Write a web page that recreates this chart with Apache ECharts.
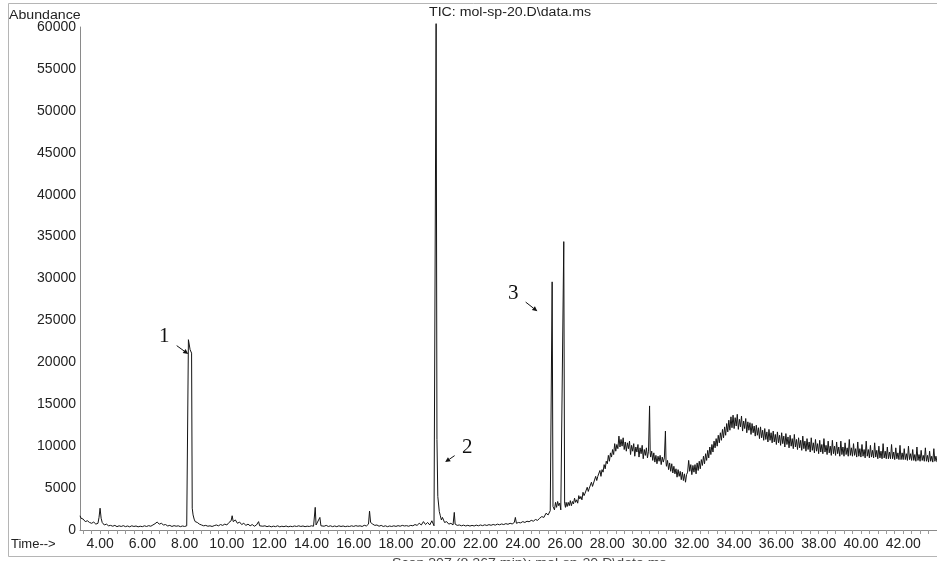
<!DOCTYPE html>
<html>
<head>
<meta charset="utf-8">
<script src="https://cdn.jsdelivr.net/npm/echarts@6.0.0/dist/echarts.min.js"></script>
<style>
  html, body { margin: 0; padding: 0; background: #fff; }
  #main { width: 937px; height: 561px; }
</style>
</head>
<body>
<div id="main"></div>
<script>
// TIC trace, [time (min), abundance]
var traceEarly = [
  [3.05,1700],[3.1,1400],[3.15,1200],[3.2,1300],[3.3,1000],[3.4,1100],[3.5,900],[3.6,800],[3.7,950],[3.8,700],
  [3.9,800],[3.95,1500],[4.0,2600],[4.05,1400],[4.1,900],[4.2,600],[4.3,700],[4.4,500],[4.5,550],[4.6,450],
  [4.7,550],[4.8,400],[4.9,500],[5.0,420],[5.1,520],[5.2,400],[5.3,480],[5.4,380],[5.5,500],[5.6,420],
  [5.7,480],[5.8,380],[5.9,450],[6.0,400],[6.1,500],[6.2,420],[6.3,520],[6.4,450],[6.5,600],[6.6,750],
  [6.7,950],[6.8,700],[6.9,800],[7.0,600],[7.1,650],[7.2,480],[7.3,550],[7.4,420],[7.5,520],[7.6,450],
  [7.7,500],[7.8,400],[7.9,480],[8.0,420],[8.1,500],[8.14,600]
];
var tracePeak1 = [
  [8.18,22700],[8.26,21500],[8.33,21100],[8.36,2600],[8.4,1800],[8.45,1300],[8.5,1000],[8.6,900],[8.7,700],[8.8,600],
  [8.9,500],[9.0,550],[9.1,450],[9.2,500],[9.3,420],[9.4,520],[9.5,600],[9.6,500],[9.7,650],[9.8,550],
  [9.9,700],[10.0,600],[10.1,900],[10.2,1100],[10.25,1700],[10.3,1000],[10.4,1200],[10.5,800],[10.6,950],[10.7,650],
  [10.8,800],[10.9,550],[11.0,700],[11.1,500],[11.2,650],[11.3,450],[11.4,600],[11.5,1000],[11.55,500],[11.6,550],
  [11.7,450],[11.8,500],[11.9,400],[12.0,480],[12.1,380],[12.2,460],[12.3,400],[12.4,500],[12.5,380],[12.6,450],
  [12.7,400],[12.8,480],[12.9,380],[13.0,450],[13.1,400],[13.2,480],[13.3,420],[13.4,500],[13.5,420],[13.6,480],
  [13.7,400],[13.8,460],[13.9,420],[14.0,500],[14.1,450],[14.18,2700],[14.22,600],[14.3,800],[14.4,1500],[14.45,500],
  [14.5,600],[14.6,450],[14.7,550],[14.8,420],[14.9,500],[15.0,400],[15.1,480],[15.2,400],[15.3,500],[15.4,420],
  [15.5,480],[15.6,400],[15.7,460],[15.8,420],[15.9,500],[16.0,430],[16.1,520],[16.2,450],[16.3,500],[16.4,420],
  [16.5,560],[16.6,480],[16.7,700],[16.75,2250],[16.8,900],[16.9,700],[17.0,550],[17.1,600],[17.2,450],[17.3,550],
  [17.4,420],[17.5,500],[17.6,400],[17.7,480],[17.8,420],[17.9,500],[18.0,430],[18.1,520],[18.2,450],[18.3,550],
  [18.4,480],[18.5,520],[18.6,450],[18.7,550],[18.8,500],[18.9,650],[19.0,550],[19.1,800],[19.2,600],[19.3,1000],
  [19.4,650],[19.5,900],[19.6,600],[19.7,1100],[19.8,500],[19.86,450]
];
var tracePeak2 = [
  [19.9,60400],[19.94,10800],[19.98,4000],[20.05,2200],[20.1,1700],[20.15,1200],[20.2,1500],[20.3,900],[20.4,1000],[20.5,700],
  [20.6,800],[20.7,600],[20.76,2100],[20.8,700],[20.9,550],[21.0,600],[21.1,500],[21.2,580],[21.3,480],[21.4,560],
  [21.5,470],[21.6,550],[21.7,480],[21.8,580],[21.9,500],[22.0,600],[22.1,520],[22.2,620],[22.3,540],[22.4,640],
  [22.5,560],[22.6,660],[22.7,580],[22.8,700],[22.9,620],[23.0,720],[23.1,650],[23.2,760],[23.3,680],[23.4,800],
  [23.5,720],[23.6,900],[23.65,1500],[23.7,800],[23.8,900],[23.9,850],[24.0,1000],[24.1,900],[24.2,1050],[24.3,980],
  [24.4,1150],[24.5,1050],[24.6,1250],[24.7,1150],[24.8,1400],[24.9,1600],[25.0,1500],[25.1,2000],[25.2,1800],[25.3,2300],
  [25.35,2100]
];
var tracePeak3 = [
  [25.39,29600],[25.43,2800],[25.5,2400],[25.55,3300],[25.6,2700],[25.65,3400],[25.7,2900],[25.75,3200],[25.8,2400],[25.88,2600],
  [25.94,34400],[25.98,3200],[26.02,2700],[26.05,3300],[26.1,2800]
];
var traceRise = [
  [26.15,3300],[26.2,2900],[26.25,3500],[26.3,2900],[26.35,3400],[26.4,3100],[26.45,3800],[26.5,3300],[26.55,3600],[26.6,3200],
  [26.65,4100],[26.7,3700],[26.75,4000],[26.8,3600],[26.85,4500],[26.9,4100],[26.95,4400],[27.0,4500],[27.05,5100],[27.1,4600],
  [27.15,5000],[27.2,4900],[27.25,5700],[27.3,5200],[27.35,5600],[27.4,5500],[27.45,6400],[27.5,5900],[27.55,6400],[27.6,6200],
  [27.65,7100],[27.7,6400],[27.75,7200],[27.8,6900],[27.85,7800],[27.9,7300],[27.95,8200],[28.0,7900],[28.05,8900],[28.1,8200],
  [28.15,9200],[28.2,8700],[28.25,9600],[28.3,9000],[28.35,10300],[28.4,9400],[28.45,10200],[28.5,9700],[28.55,11200],[28.6,9900],
  [28.65,10800],[28.7,10000],[28.75,11000],[28.8,9600],[28.85,10500],[28.9,9400],[28.95,10400],[29.0,9700],[29.05,10600],[29.1,9000],
  [29.15,10100],[29.2,9400],[29.25,10300],[29.3,8800],[29.35,9900],[29.4,9300],[29.45,10200],[29.5,8700],[29.55,9800],[29.6,9100],
  [29.65,10100],[29.7,8500],[29.75,9600],[29.8,8900],[29.85,9800],[29.9,8600],[29.95,9400],[30.0,14800],[30.03,9200],[30.05,8700],
  [30.1,9400],[30.15,8300],[30.2,9200],[30.25,8100],[30.3,8900],[30.35,7900],[30.4,8800],[30.45,8200],[30.5,8900],[30.55,7800],
  [30.6,8700],[30.65,8100],[30.7,8600],[30.75,11800],[30.78,8000],[30.8,7600],[30.85,8300],[30.9,7200],[30.95,8000],[31.0,7000],
  [31.05,7900],[31.1,6800],[31.15,7600],[31.2,6700],[31.25,7300],[31.3,6300],[31.35,7200],[31.4,6400],[31.45,7000],[31.5,6000],
  [31.55,6900],[31.6,5900],[31.65,6700],[31.7,5700],[31.75,6600],[31.8,6900],[31.85,8300],[31.9,7000],[31.95,7800],[32.0,6600],
  [32.05,7700],[32.1,6900],[32.15,7800],[32.2,6700],[32.25,8000],[32.3,7100],[32.35,8200],[32.4,7300],[32.45,8400],[32.5,7700],
  [32.55,8800],[32.6,7900],[32.65,9100],[32.7,8300],[32.75,9500],[32.8,8600],[32.85,9900],[32.9,9000],[32.95,10200],[33.0,9300],
  [33.05,10600],[33.1,9800],[33.15,10900],[33.2,10000],[33.25,11300],[33.3,10400],[33.35,11600],[33.4,10700],[33.45,12000],[33.5,11000],
  [33.55,12300],[33.6,11300],[33.65,12700],[33.7,11700],[33.75,13100],[33.8,11900],[33.85,13500],[33.9,12200],[33.95,13700],[34.0,12100]
];
var tracePlateau = [
  [34.05,13400],[34.1,12400],[34.15,13800],[34.2,12000],[34.25,13200],[34.3,12300],[34.35,13600],[34.4,11800],[34.45,13000],[34.5,12100],
  [34.55,13300],[34.6,11600],[34.65,12900],[34.7,11900],[34.75,12800],[34.8,11400],[34.85,12700],[34.9,11600],[34.95,12400],[35.0,11200],
  [35.05,12500],[35.1,11300],[35.15,12200],[35.2,10900],[35.25,12300],[35.3,11000],[35.35,11900],[35.4,10700],[35.45,12100],[35.5,10800],
  [35.55,11700],[35.6,10500],[35.65,12000],[35.7,10700],[35.75,11600],[35.8,10400],[35.85,11800],[35.9,10500],[35.95,11400],[36.0,10200],
  [36.05,11700],[36.1,10400],[36.15,11300],[36.2,10100],[36.25,11600],[36.3,10300],[36.35,11200],[36.4,9900],[36.45,11500],[36.5,10200],
  [36.55,11100],[36.6,9800],[36.65,11300],[36.7,10000],[36.75,10900],[36.8,9700],[36.85,11400],[36.9,9900],[36.95,10800],[37.0,9600],
  [37.05,11000],[37.1,9800],[37.15,10700],[37.2,9500],[37.25,11200],[37.3,9700],[37.35,10600],[37.4,9400],[37.45,10900],[37.5,9600],
  [37.55,10500],[37.6,9300],[37.65,11000],[37.7,9500],[37.75,10400],[37.8,9200],[37.85,10800],[37.9,9400],[37.95,10300],[38.0,9100],
  [38.05,10700],[38.1,9300],[38.15,10200],[38.2,9100],[38.25,10900],[38.3,9300],[38.35,10100],[38.4,9000],[38.45,10600],[38.5,9200],
  [38.55,10000],[38.6,8900],[38.65,10700],[38.7,9100],[38.75,10000],[38.8,8900],[38.85,10500],[38.9,9100],[38.95,9900],[39.0,8800],
  [39.05,10600],[39.1,9000],[39.15,9900],[39.2,8800],[39.25,10400],[39.3,9000],[39.35,9800],[39.4,8800],[39.45,10800],[39.5,8900],
  [39.55,9800],[39.6,8800],[39.65,10300],[39.7,8900],[39.75,9700],[39.8,8700],[39.85,10500],[39.9,8800],[39.95,9700],[40.0,8700],
  [40.05,10200],[40.1,8800],[40.15,9600],[40.2,8600],[40.25,10600],[40.3,8800],[40.35,9600],[40.4,8600],[40.45,10100],[40.5,8700],
  [40.55,9500],[40.6,8600],[40.65,10400],[40.7,8700],[40.75,9500],[40.8,8500],[40.85,10000],[40.9,8600],[40.95,9400],[41.0,8500],
  [41.05,10300],[41.1,8600],[41.15,9400],[41.2,8500],[41.25,9900],[41.3,8500],[41.35,9300],[41.4,8500],[41.45,10200],[41.5,8500],
  [41.55,9300],[41.6,8400],[41.65,9800],[41.7,8500],[41.75,9200],[41.8,8400],[41.85,10100],[41.9,8400],[41.95,9200],[42.0,8400],
  [42.05,9700],[42.1,8400],[42.15,9100],[42.2,8300],[42.25,10000],[42.3,8400],[42.35,9100],[42.4,8300],[42.45,9600],[42.5,8300],
  [42.55,9000],[42.6,8200],[42.65,9900],[42.7,8300],[42.75,9000],[42.8,8200],[42.85,9500],[42.9,8300],[42.95,8900],[43.0,8200],
  [43.05,9800],[43.1,8200],[43.15,8900],[43.2,8100],[43.25,9400],[43.3,8200],[43.35,8800],[43.4,8100],[43.45,9700],[43.5,8200],
  [43.55,8800],[43.6,8100]
];

// axis labels
var timeLabels = [4,6,8,10,12,14,16,18,20,22,24,26,28,30,32,34,36,38,40,42];

// numbered peak marks: label, arrow tip (time, abundance)
var peakMarks = [
  { label: '1', t: 8.17, v: 21000 },
  { label: '2', t: 20.33, v: 8100 },
  { label: '3', t: 24.69, v: 26100 }
];
// where the number sits relative to the arrow tip, px
var markOffsets = { '1': [-18, -13], '2': [16, -11], '3': [-18, -14] };

var allTrace = traceEarly.concat(tracePeak1, tracePeak2, tracePeak3, traceRise, tracePlateau);

// small ticks every 0.4 min
var minorTicks = [];
for (var k = 0; k <= 101; k++) {
  minorTicks.push(Math.round((3.2 + k * 0.4) * 10) / 10);
}

var font = '"Liberation Sans", Arial, sans-serif';
var chart = echarts.init(document.getElementById('main'));

chart.setOption({
  animation: false,
  backgroundColor: '#fff',
  grid: { left: 80, right: 0, top: 27, bottom: 31 },
  xAxis: {
    type: 'value',
    min: 3.05,
    max: 43.6,
    axisLine: { show: true, lineStyle: { color: '#8a8a8a', width: 1 } },
    axisTick: { show: true, customValues: minorTicks, length: 4, lineStyle: { color: '#999' } },
    axisLabel: {
      customValues: timeLabels,
      formatter: function (v) { return v.toFixed(2); },
      color: '#222',
      fontFamily: font,
      fontSize: 14,
      margin: 7
    },
    splitLine: { show: false }
  },
  yAxis: {
    type: 'value',
    min: 0,
    max: 60000,
    interval: 5000,
    axisLine: { show: true, lineStyle: { color: '#8a8a8a', width: 1 } },
    axisTick: { show: false },
    axisLabel: {
      formatter: function (v) { return String(v); },
      color: '#222', fontFamily: font, fontSize: 14, margin: 4
    },
    splitLine: { show: false }
  },
  series: [{
    type: 'line',
    data: allTrace,
    symbol: 'none',
    clip: false,
    lineStyle: { color: '#141414', width: 1 }
  }]
});

// frame, header texts and numbered arrows
var graphics = [
  { type: 'rect', shape: { x: 8.5, y: 3.5, width: 940, height: 553 }, style: { fill: null, stroke: '#b5b5b5', lineWidth: 1 }, silent: true },
  { type: 'text', x: 9, y: 10, scaleX: 1.18, style: { text: 'Abundance', font: '12px ' + font, fill: '#222' } },
  { type: 'text', x: 429, y: 7, scaleX: 1.18, style: { text: 'TIC: mol-sp-20.D\\data.ms', font: '12px ' + font, fill: '#222' } },
  { type: 'text', x: 11, y: 538, style: { text: 'Time-->', font: '13px ' + font, fill: '#222' } },
  { type: 'text', x: 392, y: 558, scaleX: 1.18, style: { text: 'Scan 307 (8.267 min): mol-sp-20.D\\data.ms', font: '12px ' + font, fill: '#444' } }
];

peakMarks.forEach(function (m) {
  var tip = chart.convertToPixel({ gridIndex: 0 }, [m.t, m.v]);
  var off = markOffsets[m.label];
  var tx = tip[0] + off[0], ty = tip[1] + off[1];
  // arrow starts a bit away from the number
  var dx = tip[0] - tx, dy = tip[1] - ty;
  var len = Math.sqrt(dx * dx + dy * dy);
  var ux = dx / len, uy = dy / len;
  var sx = tx + ux * 8, sy = ty + uy * 8;
  var hx = tip[0] - ux * 5, hy = tip[1] - uy * 5;
  graphics.push({
    type: 'text', x: tx + (off[0] < 0 ? -6 : 6), y: ty - 4,
    style: { text: m.label, font: '21px "Liberation Serif", "Times New Roman", serif', fill: '#111', align: 'center', verticalAlign: 'middle' }
  });
  graphics.push({
    type: 'line', shape: { x1: sx, y1: sy, x2: hx, y2: hy },
    style: { stroke: '#111', lineWidth: 1 }
  });
  graphics.push({
    type: 'polygon',
    shape: { points: [[tip[0], tip[1]], [hx - uy * 2.5, hy + ux * 2.5], [hx + uy * 2.5, hy - ux * 2.5]] },
    style: { fill: '#111' }
  });
});

chart.setOption({ graphic: graphics });
</script>
</body>
</html>
